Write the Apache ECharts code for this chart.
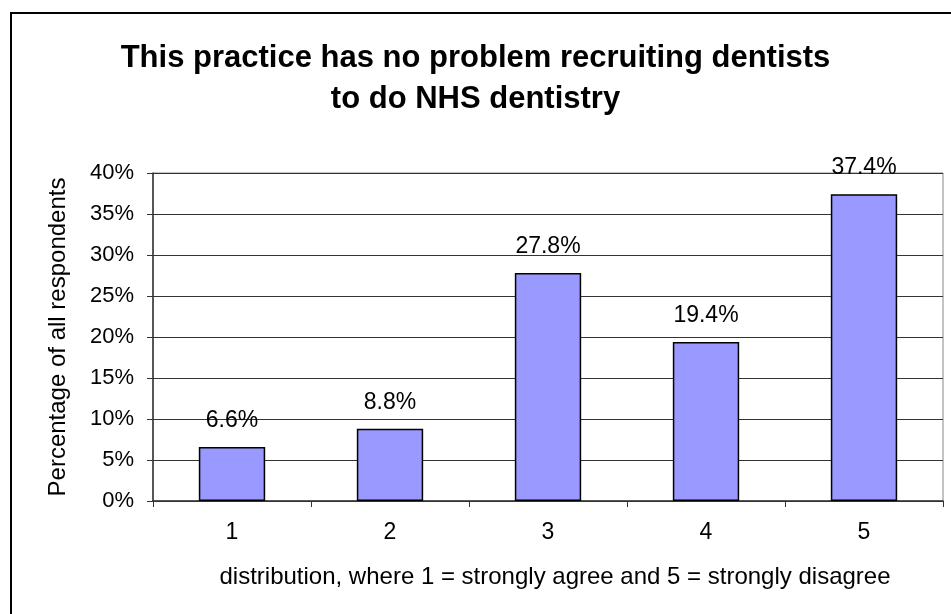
<!DOCTYPE html>
<html>
<head>
<meta charset="utf-8">
<script src="https://cdn.jsdelivr.net/npm/echarts@6/dist/echarts.min.js"></script>
<style>html,body{margin:0;padding:0;background:#fff;}#c{width:951px;height:614px;}</style>
</head>
<body>
<div id="c"></div>
<script>
const categories = ['1', '2', '3', '4', '5'];
const values = [6.6, 8.8, 27.8, 19.4, 37.4];
const titleText = 'This practice has no problem recruiting dentists\nto do NHS dentistry';
const xName = 'distribution, where 1 = strongly agree and 5 = strongly disagree';
const yName = 'Percentage of all respondents';

const chart = echarts.init(document.getElementById('c'), null, {renderer: 'canvas'});
const font = 'Liberation Sans, Arial, sans-serif';
chart.setOption({
  animation: false,
  backgroundColor: '#fff',
  textStyle: {fontFamily: font},
  title: {
    text: titleText,
    left: 'center',
    top: 33,
    textStyle: {fontFamily: font, fontSize: 31, fontWeight: 'bold', color: '#000', lineHeight: 41}
  },
  graphic: [{
    type: 'rect',
    shape: {x: 11, y: 13, width: 960, height: 700},
    style: {fill: 'none', stroke: '#000', lineWidth: 2},
    silent: true
  }],
  grid: {
    left: 153, top: 173, right: 8, bottom: 113,
    show: true, borderColor: '#888', borderWidth: 1, backgroundColor: 'transparent'
  },
  xAxis: {
    type: 'category',
    data: categories,
    name: xName,
    nameLocation: 'middle',
    nameGap: 64,
    nameTextStyle: {fontFamily: font, fontSize: 24, color: '#000', padding: [0, 0, 0, 14]},
    axisLine: {lineStyle: {color: '#333', width: 1.5}},
    axisTick: {show: true, inside: false, length: 6, lineStyle: {color: '#333'}},
    axisLabel: {fontFamily: font, fontSize: 23, color: '#000', margin: 20},
    splitLine: {show: false}
  },
  yAxis: {
    type: 'value',
    min: 0, max: 40, interval: 5,
    name: yName,
    nameLocation: 'middle',
    nameGap: 83,
    nameRotate: 90,
    nameTextStyle: {fontFamily: font, fontSize: 24, color: '#000'},
    axisLine: {show: true, lineStyle: {color: '#333', width: 1.5}},
    axisTick: {show: true, inside: false, length: 6, lineStyle: {color: '#333'}},
    axisLabel: {fontFamily: font, fontSize: 22, color: '#000', margin: 19, formatter: '{value}%'},
    splitLine: {show: true, lineStyle: {color: '#333', width: 1}}
  },
  series: [{
    type: 'bar',
    data: values,
    barWidth: '42%',
    itemStyle: {color: '#9999FF', borderColor: '#000', borderWidth: 1.5},
    label: {
      show: true,
      position: 'top',
      distance: 15,
      formatter: p => p.value.toFixed(1) + '%',
      fontFamily: font,
      fontSize: 23,
      color: '#000'
    }
  }]
});
</script>
</body>
</html>
